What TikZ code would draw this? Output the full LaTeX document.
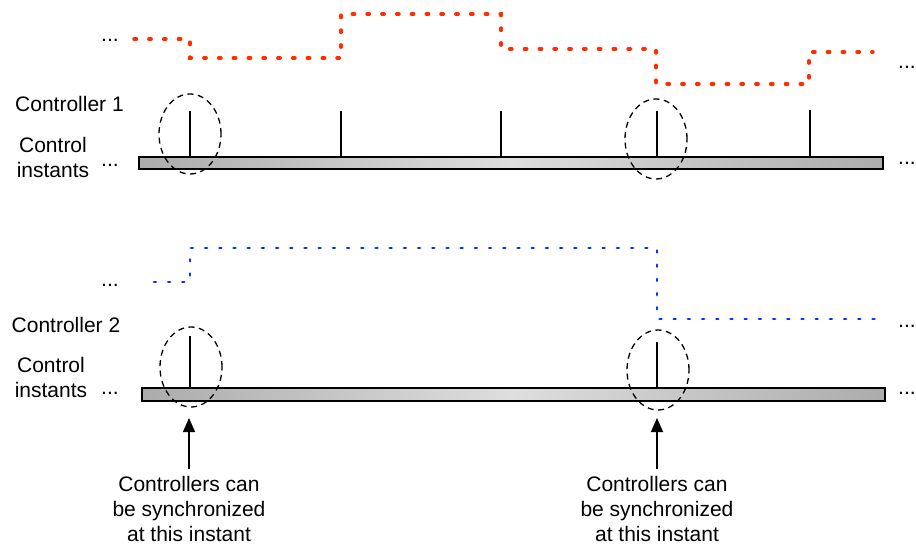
\documentclass[tikz,border=0pt]{standalone}
\usepackage{fontspec}
\setmainfont{Liberation Sans}
\usetikzlibrary{shapes.geometric,arrows.meta}
\definecolor{barend}{RGB}{172,172,172}
\definecolor{barmid}{RGB}{222,222,222}
\definecolor{sigred}{RGB}{255,45,0}
\definecolor{sigblue}{RGB}{0,50,255}
\tikzset{
  lbl/.style={font=\fontsize{21}{25}\selectfont, inner sep=0pt, align=center},
  bar/.style={draw=black, line width=1.6pt, rectangle, inner sep=0pt,
    left color=barend, right color=barend, middle color=barmid},
  tick/.style={line width=1.4pt},
  ring/.style={ellipse, draw=black, dashed, dash pattern=on 6pt off 4.5pt, line width=1.3pt,
    minimum width=62pt, minimum height=80pt, inner sep=0pt},
  redsig/.style={sigred, line width=3.4pt, line cap=round, dash pattern=on 2.4pt off 12.4pt},
  bluesig/.style={sigblue, line width=2.8pt, line cap=round, dash pattern=on 1.8pt off 12.4pt},
  pointer/.style={line width=1.3pt, -{Triangle[length=14pt,width=12pt]}},
}
\begin{document}
\begin{tikzpicture}[x=1pt,y=-1pt]
\useasboundingbox (0,0) rectangle (916,548);

% ---------- Controller 1 ----------
\draw[redsig] (134,39) -- (190,39) -- (190,58) -- (341,58) -- (341,14) -- (501,14)
  -- (501,49) -- (656,49) -- (656,84) -- (809,84) -- (809,52) -- (873,52);
\node[lbl] (d1l) at (110,40) {...};
\node[lbl, anchor=west] (d1r) at (898,67) {...};

\node[lbl] (c1) at (69.5,104) {Controller 1};
\node[lbl] (ci1) at (53,157.5) {Control\\instants};
\node[lbl] (b1l) at (110,165) {...};
\node[lbl, anchor=west] (b1r) at (898,163) {...};

\node[bar, minimum width=744pt, minimum height=12pt] (bar1) at (511,163) {};
\foreach \x/\t in {190/111,341/111,501/111,657/111,810/110}
  \draw[tick] (\x,\t) -- (\x,157);
\node[ring] (e1a) at (190,134) {};
\node[ring] (e1b) at (656,139) {};

% ---------- Controller 2 ----------
\draw[bluesig] (154,282) -- (190,282) -- (190,248) -- (657,248) -- (657,319) -- (881,319);
\node[lbl] (d2l) at (110,285) {...};
\node[lbl, anchor=west] (d2r) at (898,326) {...};

\node[lbl] (c2) at (66,325) {Controller 2};
\node[lbl] (ci2) at (51,377.5) {Control\\instants};
\node[lbl] (b2l) at (110,393) {...};
\node[lbl, anchor=west] (b2r) at (898,393) {...};

\node[bar, minimum width=743pt, minimum height=13pt] (bar2) at (513.5,394.5) {};
\draw[tick] (190,336) -- (190,388);
\draw[tick] (657,342) -- (657,388);
\node[ring] (e2a) at (191,367) {};
\node[ring] (e2b) at (658,370) {};

% ---------- annotations ----------
\node[lbl, anchor=north] (s1) at (189,476) {Controllers can\\be synchronized\\at this instant};
\node[lbl, anchor=north] (s2) at (657,476) {Controllers can\\be synchronized\\at this instant};
\coordinate (a1) at (189,418);
\coordinate (a2) at (657,418);
\draw[pointer, shorten <=7pt] (s1.north) -- (a1);
\draw[pointer, shorten <=7pt] (s2.north) -- (a2);
\end{tikzpicture}
\end{document}
